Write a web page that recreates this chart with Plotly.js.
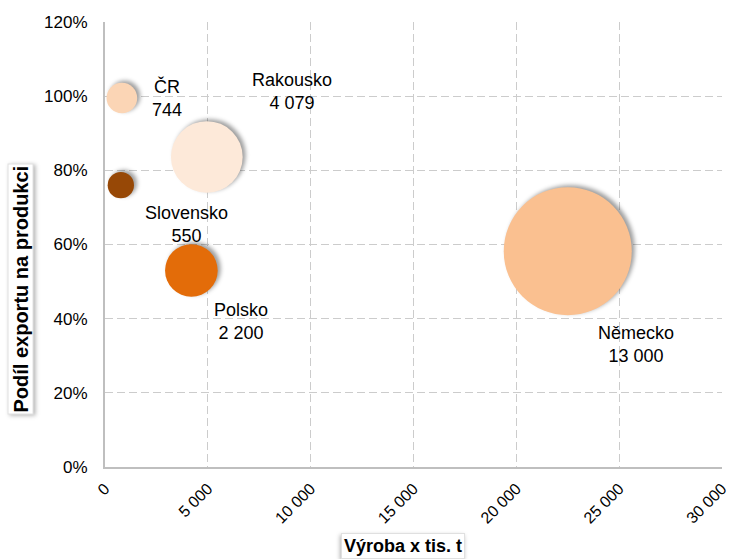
<!DOCTYPE html>
<html>
<head>
<meta charset="utf-8">
<script src="https://cdn.plot.ly/plotly-3.0.1.min.js"></script>
<style>
html, body { margin: 0; padding: 0; background: #fff; }
#chart { width: 731px; height: 559px; }
#chart .scatterlayer path.point { filter: drop-shadow(3px -2px 2px rgba(0,0,0,0.38)); }
#chart .annotation .bg { filter: drop-shadow(-1px 2px 2px rgba(0,0,0,0.3)); }
</style>
</head>
<body>
<div id="chart"></div>
<script>
// Data
const countries = ["ČR", "Rakousko", "Slovensko", "Polsko", "Německo"];
const production = [820, 4950, 770, 4200, 22500];       // Výroba (tis. t)
const exportShare = [99.5, 83.6, 76, 53, 58.2];          // Podíl exportu na produkci (%)
const volume = [744, 4079, 550, 2200, 13000];            // bubble size values
const volumeLabels = ["744", "4 079", "550", "2 200", "13 000"];
const colors = ["#FBD5B5", "#FDE9D9", "#974806", "#E36C09", "#FAC090"];
const xTickVals = [0, 5000, 10000, 15000, 20000, 25000, 30000];
const xTickText = ["0", "5 000", "10 000", "15 000", "20 000", "25 000", "30 000"];
const yTickVals = [0, 20, 40, 60, 80, 100, 120];
const yTickText = ["0%", "20%", "40%", "60%", "80%", "100%", "120%"];

// label offsets (pixels) relative to bubble centres
const labelShiftX = [45, 85, 66, 50, 68];
const labelShiftY = [0, 65, -39, -51, -93];

const maxDiameter = 128;
const sizeref = 2 * Math.max(...volume) / (maxDiameter * maxDiameter);

const trace = {
  type: "scatter",
  mode: "markers",
  x: production,
  y: exportShare,
  text: countries,
  marker: {
    size: volume,
    sizemode: "area",
    sizeref: sizeref,
    color: colors,
    opacity: 1,
    line: { width: 0 }
  },
  hoverinfo: "text"
};

const font = "Liberation Sans, Arial, sans-serif";

const annotations = countries.map((c, i) => ({
  x: production[i], y: exportShare[i], xref: "x", yref: "y",
  text: c + "<br>" + volumeLabels[i],
  showarrow: false,
  xshift: labelShiftX[i], yshift: labelShiftY[i],
  font: { family: font, size: 18, color: "#000" },
  align: "center"
}));

annotations.push({
  xref: "paper", yref: "paper", x: -0.158, y: 0.40,
  text: "<b>Podíl exportu na produkci</b>", textangle: -90,
  showarrow: false, font: { family: font, size: 20, color: "#000" },
  bgcolor: "#ffffff", bordercolor: "#e0e0e0", borderwidth: 1, borderpad: 1
});
annotations.push({
  xref: "paper", yref: "paper", x: 0.483, y: -0.207,
  text: "<b>Výroba x tis. t</b>",
  showarrow: false, font: { family: font, size: 18, color: "#000" },
  bgcolor: "#ffffff", bordercolor: "#e0e0e0", borderwidth: 1, borderpad: 2
});

const gridDash = "8px,4px";

const layout = {
  width: 731, height: 559,
  margin: { l: 105, r: 9, t: 22, b: 92 },
  paper_bgcolor: "#fff", plot_bgcolor: "#fff",
  showlegend: false,
  font: { family: font, size: 16, color: "#000" },
  xaxis: {
    range: [0, 30000], tickmode: "array", tickvals: xTickVals, ticktext: xTickText,
    tickangle: -45, tickfont: { family: font, size: 16 },
    ticklabeloverflow: "allow", ticklabelstandoff: 4,
    showgrid: true, gridcolor: "#cccccc", griddash: gridDash, gridwidth: 1.3,
    showline: true, linecolor: "#bfbfbf", linewidth: 2,
    zeroline: false, ticks: "", fixedrange: true
  },
  yaxis: {
    range: [0, 120], tickmode: "array", tickvals: yTickVals, ticktext: yTickText,
    tickfont: { family: font, size: 17 },
    ticklabeloverflow: "allow", ticklabelstandoff: 12,
    showgrid: true, gridcolor: "#cccccc", griddash: gridDash, gridwidth: 1.3,
    showline: true, linecolor: "#bfbfbf", linewidth: 2,
    zeroline: false, ticks: "", fixedrange: true
  },
  annotations: annotations
};

Plotly.newPlot("chart", [trace], layout, { displayModeBar: false, staticPlot: true });
</script>
</body>
</html>
